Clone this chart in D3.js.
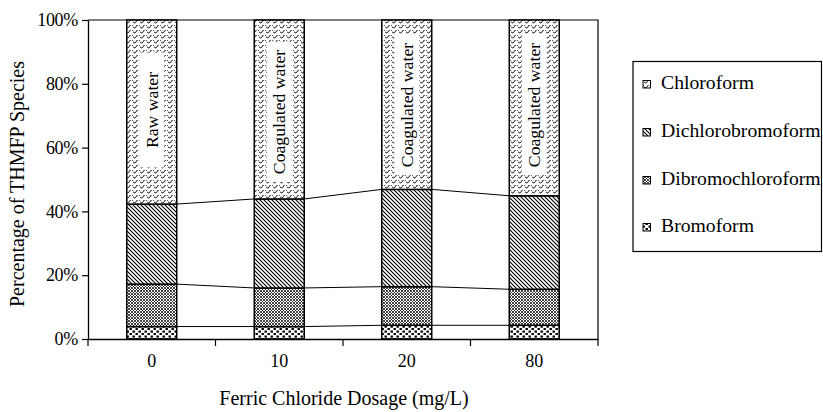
<!DOCTYPE html>
<html><head><meta charset="utf-8">
<script src="https://cdn.jsdelivr.net/npm/d3@7"></script>
<style>
body{margin:0;background:#fff;}
svg{display:block;}
</style></head>
<body><svg id="c" width="823" height="412"></svg>
<script>
const categories = ["0","10","20","80"];
const waterLabels = ["Raw water","Coagulated water","Coagulated water","Coagulated water"];
const bromoform = [3.9, 3.9, 4.3, 4.3];
const dibromochloroform = [13.3, 12.1, 12.1, 11.3];
const dichlorobromoform = [25.1, 27.9, 30.5, 29.3];
const chloroform = [57.7, 56.1, 53.1, 55.1];
const seriesNames = ["Bromoform","Dibromochloroform","Dichlorobromoform","Chloroform"];
const legendOrder = ["Chloroform","Dichlorobromoform","Dibromochloroform","Bromoform"];
const yTicks = [0,20,40,60,80,100];

const FONT = "Liberation Serif";
const rows = categories.map((c,i)=>({cat:c, Bromoform:bromoform[i], Dibromochloroform:dibromochloroform[i], Dichlorobromoform:dichlorobromoform[i], Chloroform:chloroform[i]}));
const stacked = d3.stack().keys(seriesNames)(rows);

const svg = d3.select("#c");
const L=88, R=598, T=20, B=339;
const x = d3.scaleBand().domain(categories).range([L,R]).paddingInner(0.608).paddingOuter(0.304);
const y = d3.scaleLinear().domain([0,100]).range([B,T]);

// patterns
const defs = svg.append("defs");
const pat = {};
function mk(id,w,h,draw){ const p=defs.append("pattern").attr("id",id).attr("patternUnits","userSpaceOnUse").attr("width",w).attr("height",h); p.append("rect").attr("width",w).attr("height",h).attr("fill","#fff"); draw(p); return "url(#"+id+")"; }
pat.Chloroform = mk("pWave",7,5,p=>p.append("path").attr("d","M-0.5,1.2 Q1.75,4.6 3.5,1.2 T7.5,1.2").attr("fill","none").attr("stroke","#000").attr("stroke-width",1));
pat.Dichlorobromoform = mk("pDiag",4,4,p=>p.append("path").attr("d","M0,0 L4,4 M-1,3 L1,5 M3,-1 L5,1").attr("stroke","#000").attr("stroke-width",1.1));
pat.Dibromochloroform = mk("pCross",3,3,p=>p.append("path").attr("d","M0,0 L3,3 M3,0 L0,3").attr("stroke","#222").attr("stroke-width",0.85));
pat.Bromoform = mk("pDots",6,5,p=>{p.append("rect").attr("x",0.5).attr("y",0.5).attr("width",2.4).attr("height",2.2).attr("fill","#000"); p.append("rect").attr("x",3.5).attr("y",3).attr("width",2.4).attr("height",2.2).attr("fill","#000");});

// frame top and right
svg.append("path").attr("d",`M${L},${T}H${R}V${B}`).attr("fill","none").attr("stroke","#000").attr("stroke-width",1.2);

// connecting lines between bar segment tops
stacked.slice(0,3).forEach(s=>{
  for(let i=0;i<categories.length-1;i++){
    svg.append("line").attr("x1",x(categories[i])+x.bandwidth()).attr("y1",y(s[i][1]))
      .attr("x2",x(categories[i+1])).attr("y2",y(s[i+1][1])).attr("stroke","#000").attr("stroke-width",1);
  }
});

// bars
stacked.forEach(s=>{
  svg.append("g").selectAll("rect").data(s).join("rect")
    .attr("x",d=>x(d.data.cat)).attr("width",x.bandwidth())
    .attr("y",d=>y(d[1])).attr("height",d=>y(d[0])-y(d[1]))
    .attr("fill",pat[s.key]).attr("stroke","#000").attr("stroke-width",1.5);
});

// water labels (rotated, on white boxes)
const labelCY = [110,112,105,105];
categories.forEach((c,i)=>{
  const cx = x(c)+x.bandwidth()/2;
  const g = svg.append("g").attr("transform",`translate(${cx},${labelCY[i]}) rotate(-90)`);
  const t = g.append("text").attr("text-anchor","middle").attr("dy","0.33em")
    .style("font-family",FONT).style("font-size","17.7px").text(waterLabels[i]);
  const w = t.node().getComputedTextLength();
  const len = Math.max(w+16, 115);
  g.insert("rect","text").attr("x",-len/2).attr("y",-12.5).attr("width",len).attr("height",25).attr("fill","#fff");
});

// y axis
const ya = svg.append("g").attr("transform",`translate(${L},0)`)
  .call(d3.axisLeft(y).tickValues(yTicks).tickFormat(d=>d+"%").tickSize(6).tickSizeOuter(0).tickPadding(4));
ya.select(".domain").attr("stroke-width",1.3);
ya.selectAll(".tick line").attr("stroke-width",1.2);
ya.selectAll("text").style("font-family",FONT).style("font-size","18px").attr("fill","#000").attr("letter-spacing","-0.3");

// x axis
const xa = svg.append("g").attr("transform",`translate(0,${B})`)
  .call(d3.axisBottom(x).tickSize(0).tickSizeOuter(0).tickPadding(15));
xa.select(".domain").attr("stroke-width",1.5);
xa.selectAll("text").style("font-family",FONT).style("font-size","18px").attr("fill","#000");
const bounds = d3.range(categories.length+1).map(i=>L+i*x.step());
xa.selectAll("line.bt").data(bounds).join("line").attr("class","bt")
  .attr("x1",d=>d).attr("x2",d=>d).attr("y1",0).attr("y2",7).attr("stroke","#000").attr("stroke-width",1.2);

// axis titles
svg.append("text").attr("transform",`translate(24,184) rotate(-90)`).attr("text-anchor","middle")
  .style("font-family",FONT).style("font-size","20px").text("Percentage of THMFP Species");
svg.append("text").attr("x",344).attr("y",405).attr("text-anchor","middle")
  .style("font-family",FONT).style("font-size","20px").text("Ferric Chloride Dosage (mg/L)");

// legend
svg.append("rect").attr("x",633).attr("y",61.5).attr("width",188.5).attr("height",190).attr("fill","#fff").attr("stroke","#000").attr("stroke-width",1.2);
const lBase = [89,137,185,232];
legendOrder.forEach((k,i)=>{
  svg.append("rect").attr("x",643).attr("y",lBase[i]-8.5).attr("width",7.5).attr("height",7.5).attr("fill",pat[k]).attr("stroke","#000").attr("stroke-width",1);
  svg.append("text").attr("x",661).attr("y",lBase[i]).style("font-family",FONT).style("font-size","19.7px").text(k);
});
</script></body></html>
